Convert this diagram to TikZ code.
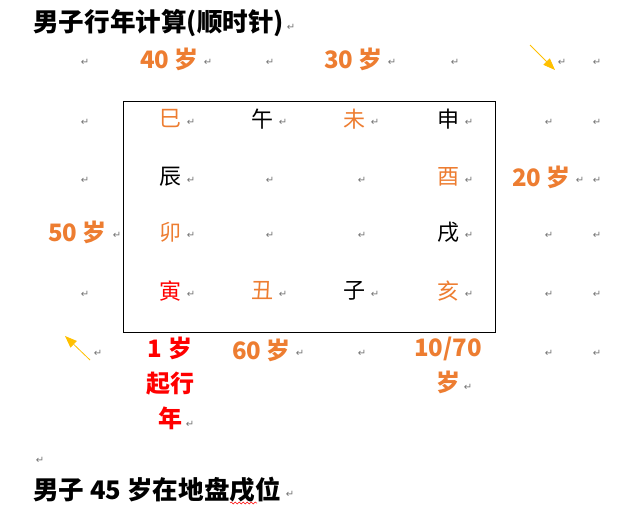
\documentclass[tikz,border=0pt]{standalone}
\usepackage{fontspec}
\newfontfamily\cjk{Noto Sans CJK SC}
\newfontfamily\dejavu{DejaVu Sans}
\usetikzlibrary{arrows.meta, decorations.pathmorphing}
\definecolor{wdorange}{HTML}{ED7D31}
\definecolor{wdred}{HTML}{FF0000}
\definecolor{wdgold}{HTML}{FFC000}
\tikzset{ret/.style={text=black!55,font=\dejavu\fontsize{10}{10}\selectfont,inner sep=0pt},zhi/.style={font=\cjk\fontsize{22}{22}\selectfont,inner sep=0pt},age/.style={font=\cjk\bfseries\fontsize{24}{35}\selectfont,text=wdorange,inner sep=0pt,align=center},head/.style={font=\cjk\bfseries\fontsize{25.6}{25.6}\selectfont,inner sep=0pt,anchor=west},line/.style={-{Triangle[length=12pt,width=9pt]},wdgold,line width=0.8pt}}

\begin{document}
\begin{tikzpicture}[x=1pt,y=-1pt]
\useasboundingbox (0,0) rectangle (629,510);
\node[head] (title) at (33,23) {男子行年计算(顺时针)};
\draw[line width=0.8pt] (123,101) rectangle (495,332);
\node[age, anchor=west] (a40) at (140,59) {40 岁};
\node[age, anchor=west] (a30) at (324,59) {30 岁};
\node[age, anchor=west] (a20) at (512,177) {20 岁};
\node[age, anchor=west] (a50) at (48,232) {50 岁};
\node[age, anchor=west] (a60) at (232,350) {60 岁};
\node[age, text=wdred, anchor=north] (a1) at (170,337) {1 岁\\起行\\年};
\node[age, anchor=north] (a70) at (448,337) {10/70\\岁};
\node[zhi, text=wdorange] (si) at (170,119) {巳};
\node[zhi] (wu) at (262,119) {午};
\node[zhi, text=wdorange] (wei) at (354,119) {未};
\node[zhi] (shen) at (448,119) {申};
\node[zhi] (chen) at (170,177) {辰};
\node[zhi, text=wdorange] (you) at (448,177) {酉};
\node[zhi, text=wdorange] (mao) at (170,232) {卯};
\node[zhi] (xu) at (448,232) {戌};
\node[zhi, text=wdred] (yin) at (170,291) {寅};
\node[zhi, text=wdorange] (chou) at (262,291) {丑};
\node[zhi] (zi) at (354,291) {子};
\node[zhi, text=wdorange] (hai) at (448,291) {亥};
\node[head] (note) at (33,490) {男子 45 岁在地盘戌位};
\draw[wdred, line width=0.5pt, decorate, decoration={snake, amplitude=1pt, segment length=4pt}] (230,503) -- (257,503);
\foreach \x/\y [count=\i] in {291/27, 85/62, 208/62, 270/62, 392/62, 455/62, 562/62, 597/62,
  85/122, 191/122, 283/122, 375/122, 469/122, 549/122, 597/122,
  85/180, 191/180, 270/180, 362/180, 469/180, 580/180, 597/180,
  117/235, 191/235, 270/235, 362/235, 469/235, 549/235, 597/235,
  85/294, 191/294, 283/294, 375/294, 469/294, 549/294, 597/294,
  98/353, 190/424, 300/353, 362/353, 468/387, 549/353, 597/353,
  40/460, 290/494}
  \node[ret] (r\i) at (\x,\y) {↵};
\coordinate (p1) at (530,45);
\coordinate (p2) at (555,70);
\coordinate (q1) at (90,360);
\coordinate (q2) at (65,336);
\draw[line] (p1) -- (p2);
\draw[line] (q1) -- (q2);
\end{tikzpicture}
\end{document}
